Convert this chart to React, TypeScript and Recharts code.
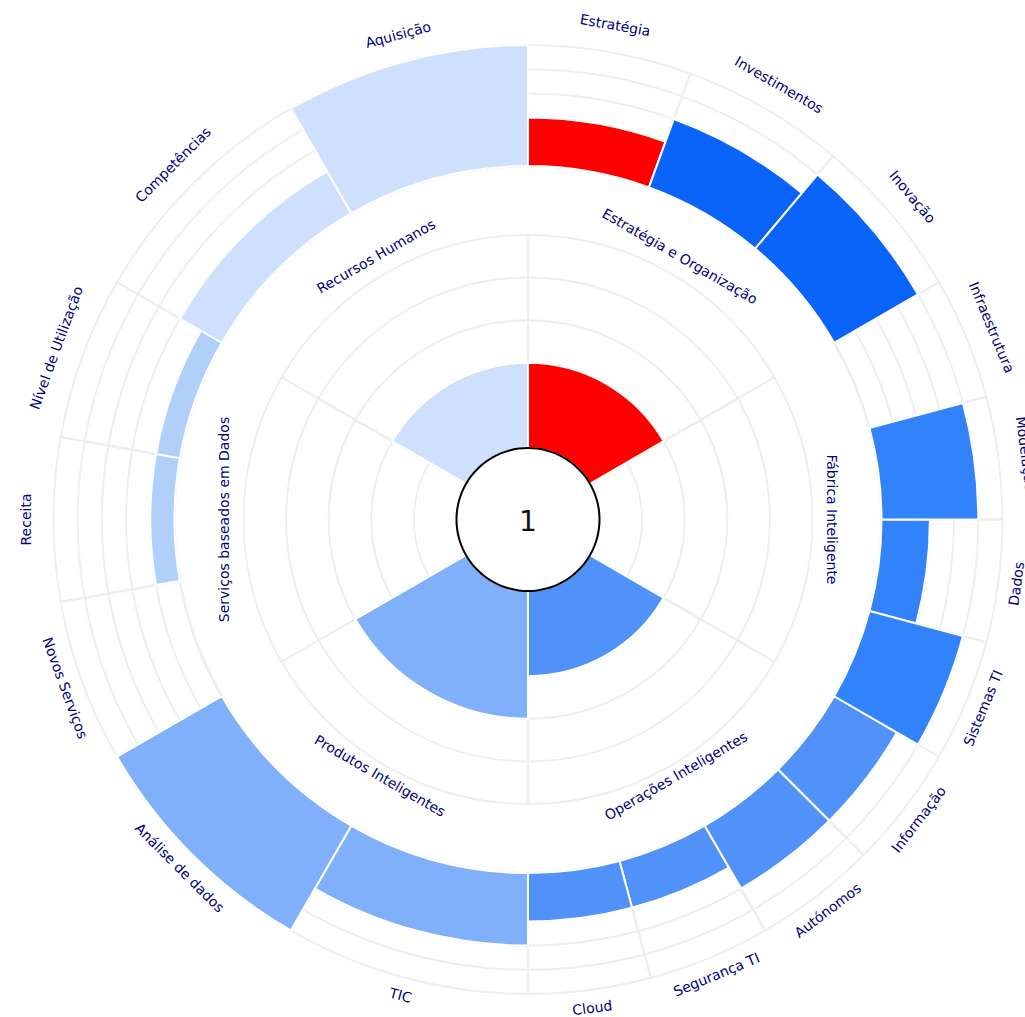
import { PieChart, Pie, Cell } from "recharts";

// inner ring: the six areas
const innerCategories = [
  "Estratégia e Organização",
  "Fábrica Inteligente",
  "Operações Inteligentes",
  "Produtos Inteligentes",
  "Serviços baseados em Dados",
  "Recursos Humanos",
];
const innerScores = [2, 0, 2, 3, 0, 2];
const innerColors = ["#ff0000", "#3282fa", "#5092fa", "#80b0fa", "#b0d0fa", "#cfe0fc"];

// outer ring: dimensions, each belongs to one inner area
const outerCategories = [
  "Estratégia",
  "Investimentos",
  "Inovação",
  "Infraestrutura",
  "Modelação",
  "Dados",
  "Sistemas TI",
  "Informação",
  "Autónomos",
  "Segurança TI",
  "Cloud",
  "TIC",
  "Análise de dados",
  "Novos Serviços",
  "Receita",
  "Nível de Utilização",
  "Competências",
  "Aquisição",
];
const outerParent = [0, 0, 0, 1, 1, 1, 1, 2, 2, 2, 2, 3, 3, 4, 4, 4, 5, 5];
const outerScores = [2, 3, 4, 0, 4, 2, 4, 3, 3, 2, 2, 3, 5, 0, 1, 1, 2, 5];
const outerColors = [
  "#ff0000", "#0a64fa", "#0a64fa",
  "#3282fa", "#3282fa", "#3282fa", "#3282fa",
  "#5092fa", "#5092fa", "#5092fa", "#5092fa",
  "#80b0fa", "#80b0fa",
  "#b0d0fa", "#b0d0fa", "#b0d0fa",
  "#cfe0fc", "#cfe0fc",
];

const centerLabel = "1";
const levels = [1, 2, 3, 4, 5];

const CX = 528;
const CY = 519.5;
const INNER = { r0: 71.5, step: 42.6 };
const OUTER = { r0: 353.5, step: 24.2 };
const GRID = "#eeeeee";
const TEXT = "#000080";
const FONT = "DejaVu Sans";

const innerData = innerCategories.map((name, i) => ({
  name,
  span: 360 / innerCategories.length,
  score: innerScores[i],
  color: innerColors[i],
}));

const outerData = outerCategories.map((name, i) => {
  const siblings = outerParent.filter((p) => p === outerParent[i]).length;
  return {
    name,
    span: 360 / innerCategories.length / siblings,
    score: outerScores[i],
    color: outerColors[i],
  };
});

const makeLabel = (rUp: number, rDown: number) => (p: any) => {
  let t = (90 - p.midAngle) % 360;
  if (t < 0) t += 360;
  const down = t > 90.5 && t < 269.5;
  const r = down ? rDown : rUp;
  const rad = (t * Math.PI) / 180;
  const x = p.cx + r * Math.sin(rad);
  const y = p.cy - r * Math.cos(rad);
  const rot = down ? t - 180 : t >= 269.5 ? t - 360 : t;
  return (
    <text
      key={`lbl-${p.index}`}
      x={x}
      y={y}
      transform={`rotate(${rot} ${x} ${y})`}
      textAnchor="middle"
      dominantBaseline="central"
      fill={TEXT}
      fontSize={14}
      fontFamily={FONT}
    >
      {p.payload?.name ?? p.name}
    </text>
  );
};

const renderCenter = (p: any) => (
  <text
    key="center"
    x={p.cx}
    y={p.cy + 2}
    textAnchor="middle"
    dominantBaseline="central"
    fill="#111"
    fontSize={28}
    fontFamily={FONT}
  >
    {centerLabel}
  </text>
);

const common = {
  dataKey: "span",
  cx: CX,
  cy: CY,
  startAngle: 90,
  endAngle: -270,
  isAnimationActive: false,
};

export default function App() {
  return (
    <div style={{ position: "absolute", left: 0, top: 0, width: 1025, height: 1017, background: "#fff" }}>
      <PieChart width={1025} height={1017} margin={{ top: 0, right: 0, bottom: 0, left: 0 }}>
        {/* grid */}
        {levels.map((v) => (
          <Pie
            key={`gi${v}`}
            {...common}
            data={innerData}
            innerRadius={INNER.r0}
            outerRadius={INNER.r0 + v * INNER.step}
            fill="none"
            stroke={GRID}
            strokeWidth={2}
          />
        ))}
        {levels.map((v) => (
          <Pie
            key={`go${v}`}
            {...common}
            data={outerData}
            innerRadius={OUTER.r0}
            outerRadius={OUTER.r0 + v * OUTER.step}
            fill="none"
            stroke={GRID}
            strokeWidth={2}
          />
        ))}

        {/* bars */}
        {levels.map((v) => (
          <Pie
            key={`bi${v}`}
            {...common}
            data={innerData}
            innerRadius={INNER.r0}
            outerRadius={INNER.r0 + v * INNER.step}
            strokeWidth={2}
          >
            {innerData.map((d, i) => (
              <Cell key={i} fill={d.score === v ? d.color : "none"} stroke={d.score === v ? "#fff" : "none"} />
            ))}
          </Pie>
        ))}
        {levels.map((v) => (
          <Pie
            key={`bo${v}`}
            {...common}
            data={outerData}
            innerRadius={OUTER.r0}
            outerRadius={OUTER.r0 + v * OUTER.step}
            strokeWidth={2}
          >
            {outerData.map((d, i) => (
              <Cell key={i} fill={d.score === v ? d.color : "none"} stroke={d.score === v ? "#fff" : "none"} />
            ))}
          </Pie>
        ))}

        {/* category labels */}
        <Pie
          {...common}
          data={innerData}
          innerRadius={INNER.r0}
          outerRadius={INNER.r0 + 5 * INNER.step}
          fill="none"
          stroke="none"
          label={makeLabel(304, 296)}
          labelLine={false}
        />
        <Pie
          {...common}
          data={outerData}
          innerRadius={OUTER.r0}
          outerRadius={OUTER.r0 + 5 * OUTER.step}
          fill="none"
          stroke="none"
          label={makeLabel(502, 492.5)}
          labelLine={false}
        />

        {/* centre disc */}
        <Pie
          {...common}
          data={[{ name: centerLabel, span: 1 }]}
          innerRadius={0}
          outerRadius={71.5}
          fill="#fff"
          stroke="none"
          label={renderCenter}
          labelLine={false}
        />
        <Pie
          {...common}
          data={[{ name: centerLabel, span: 1 }]}
          innerRadius={70.5}
          outerRadius={72.5}
          fill="#000"
          stroke="none"
        />
      </PieChart>
    </div>
  );
}
